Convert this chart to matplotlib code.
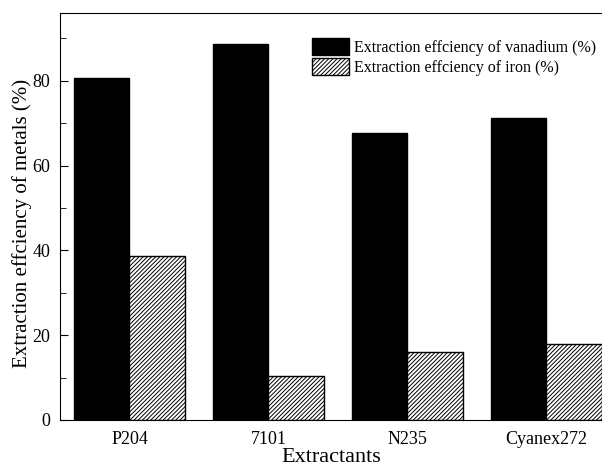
import matplotlib
matplotlib.use("Agg")
import matplotlib.pyplot as plt
import numpy as np

plt.rcParams["font.family"] = "Liberation Serif"
plt.rcParams["hatch.linewidth"] = 0.7
plt.rcParams["hatch.color"] = "#444444"

extractants = ["P204", "7101", "N235", "Cyanex272"]
vanadium = [80.7, 88.6, 67.8, 71.3]    # extraction efficiency of vanadium (%)
iron = [38.6, 10.4, 16.0, 17.9]        # extraction efficiency of iron (%)

x = np.arange(len(extractants))
w = 0.4

fig = plt.figure(figsize=(6.02, 4.66), dpi=100)
ax = fig.add_axes([60 / 602, 1 - 420 / 466, 542 / 602, 407 / 466])

ax.bar(x - w / 2, vanadium, w, color="black", edgecolor="black", linewidth=1,
       label="Extraction effciency of vanadium (%)")
ax.bar(x + w / 2, iron, w, color="white", edgecolor="black", linewidth=1,
       hatch="////////", label="Extraction effciency of iron (%)")

ax.set_xlim(-0.5, 3.4)
ax.set_ylim(0, 96)
ax.set_xticks(x)
ax.set_xticklabels(extractants)
ax.set_yticks([0, 20, 40, 60, 80])
ax.set_yticks([10, 30, 50, 70, 90], minor=True)
ax.tick_params(axis="y", which="both", direction="in", labelsize=13, pad=7)
ax.tick_params(axis="y", which="major", length=6)
ax.tick_params(axis="y", which="minor", length=4)
ax.tick_params(axis="x", length=0, labelsize=13, pad=8)
ax.spines["right"].set_visible(False)

ax.set_xlabel("Extractants", fontsize=16, labelpad=0)
ax.set_ylabel("Extraction effciency of metals (%)", fontsize=15)
ax.yaxis.set_label_coords(-0.051, 0.484)

ax.legend(loc="upper left", bbox_to_anchor=(0.454, 0.955), frameon=False,
          fontsize=11.5, handlelength=2.3, handleheight=1.25, handletextpad=0.3,
          labelspacing=0.15, borderaxespad=0)

fig.savefig("out.png", dpi=100)
